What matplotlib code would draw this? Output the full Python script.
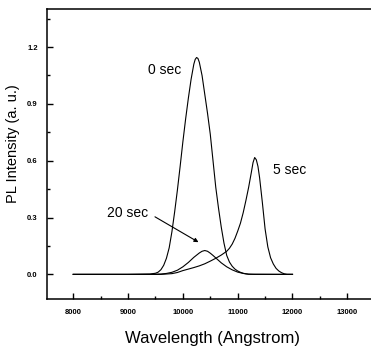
import numpy as np
import matplotlib.pyplot as plt

plt.rcParams['font.family'] = ['Liberation Sans', 'DejaVu Sans']

# spectra: wavelength (Angstrom) and PL intensity (a. u.)
wl_0s = [8000, 9000, 9400, 9500, 9550, 9600, 9650, 9700, 9750, 9800, 9850, 9900,
         9950, 10000, 10050, 10100, 10150, 10200, 10225, 10250, 10275, 10300,
         10350, 10400, 10450, 10500, 10550, 10600, 10650, 10700, 10750, 10800,
         10850, 10900, 10950, 11000, 11050, 11100, 11150, 11200, 11300, 12000]
pl_0s = [0, 0, 0.002, 0.006, 0.012, 0.025, 0.048, 0.085, 0.14, 0.225, 0.33, 0.445,
         0.57, 0.70, 0.82, 0.93, 1.03, 1.11, 1.135, 1.145, 1.14, 1.12,
         1.05, 0.95, 0.85, 0.74, 0.60, 0.46, 0.35, 0.25, 0.165, 0.10,
         0.065, 0.043, 0.028, 0.018, 0.011, 0.006, 0.003, 0.001, 0, 0]

wl_5s = [8000, 9600, 9800, 9900, 10000, 10100, 10200, 10300, 10400, 10500, 10600,
         10700, 10800, 10850, 10900, 10950, 11000, 11050, 11100, 11150, 11200,
         11250, 11280, 11310, 11340, 11370, 11400, 11450, 11500, 11550, 11600,
         11650, 11700, 11750, 11800, 11850, 11900, 12000]
pl_5s = [0, 0, 0.004, 0.01, 0.02, 0.028, 0.036, 0.045, 0.056, 0.07, 0.085,
         0.102, 0.122, 0.138, 0.16, 0.19, 0.228, 0.27, 0.325, 0.39, 0.46,
         0.54, 0.59, 0.617, 0.605, 0.57, 0.51, 0.38, 0.24, 0.145, 0.088,
         0.055, 0.032, 0.018, 0.009, 0.003, 0, 0]

wl_20s = [8000, 9400, 9600, 9700, 9800, 9900, 10000, 10100, 10200, 10300, 10350,
          10400, 10450, 10500, 10550, 10600, 10650, 10700, 10800, 10900, 11000,
          11100, 11200, 12000]
pl_20s = [0, 0, 0.002, 0.005, 0.011, 0.022, 0.04, 0.063, 0.09, 0.113, 0.122,
          0.126, 0.122, 0.112, 0.10, 0.087, 0.074, 0.061, 0.04, 0.024, 0.012,
          0.005, 0.001, 0]

fig = plt.figure(figsize=(3.71, 3.46), dpi=100)
ax = fig.add_axes([0.128, 0.1358, 0.882, 0.8376])

for wl, pl in [(wl_0s, pl_0s), (wl_5s, pl_5s), (wl_20s, pl_20s)]:
    ax.plot(wl, pl, color='black', lw=0.8)

ax.text(9673, 1.077, '0 sec', fontsize=10, ha='center', va='center')
ax.text(11953, 0.553, '5 sec', fontsize=10, ha='center', va='center')
ax.text(9000, 0.325, '20 sec', fontsize=10, ha='center', va='center')
ax.annotate('', xy=(10285, 0.170), xytext=(9491, 0.304),
            arrowprops=dict(arrowstyle='-|>', lw=0.8, color='black',
                            mutation_scale=6, shrinkA=0, shrinkB=0))

ax.set_xlim(7530, 13500)
ax.set_ylim(-0.13, 1.4)
ax.set_xticks(np.arange(8000, 13001, 1000))
ax.set_xticks(np.arange(8500, 13001, 1000), minor=True)
ax.set_yticks([0.0, 0.3, 0.6, 0.9, 1.2])
ax.set_yticks([0.15, 0.45, 0.75, 1.05, 1.35], minor=True)
ax.set_yticklabels(['0.0', '0.3', '0.6', '0.9', '1.2'])

ax.tick_params(which='both', direction='in', top=False, right=False,
               labelsize=5.5, width=1.0)
ax.tick_params(which='major', length=4, pad=7)
ax.tick_params(which='minor', length=2)
for lab in ax.get_xticklabels() + ax.get_yticklabels():
    lab.set_fontweight('bold')

for s in ['left', 'bottom', 'top']:
    ax.spines[s].set_linewidth(1.1)
ax.spines['right'].set_visible(False)

ax.set_xlabel('Wavelength (Angstrom)', fontsize=12)
ax.set_ylabel('PL Intensity (a. u.)', fontsize=10.5)
ax.xaxis.set_label_coords(0.504, -0.11)
ax.yaxis.set_label_coords(-0.084, 0.535)

fig.savefig('out.png', dpi=100)
